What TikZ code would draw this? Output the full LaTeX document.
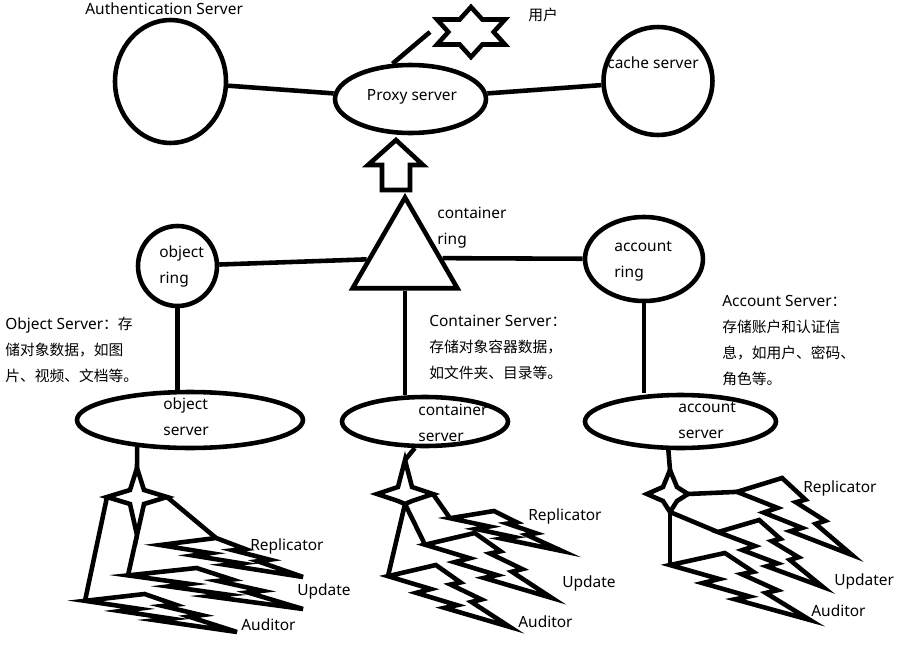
\documentclass[tikz,border=0pt]{standalone}
\usepackage{fontspec}
\setmainfont{Noto Sans}
\newfontfamily\cjk[Scale=0.955]{Noto Sans CJK SC}
\usetikzlibrary{shapes.geometric}

\tikzset{
ring/.style={draw, ellipse, line width=2.6pt, inner sep=0pt},
link/.style={line width=2.6pt},
lbl/.style={font=\fontsize{8.8}{14.8}\selectfont, align=left, anchor=west, inner sep=0pt},
pics/bolt/.style={code={
\draw[line width=2.6pt] (0.392,0) -- (0.595,0.281) -- (0.512,0.315) -- (0.767,0.556) -- (0.684,0.596) -- (1,1) -- (0.464,0.691) -- (0.566,0.648) -- (0.232,0.449) -- (0.352,0.388) -- (0,0.180) -- cycle;
\coordinate (-t) at (0.392,0);
\coordinate (-l) at (0,0.180);
}},
pics/sparkle/.style n args={4}{code={
\draw[line width=2.6pt] (0,-#1) -- (7,-7) -- (#2,0) -- (7,7) -- (0,#3) -- (-7,7) -- (-#4,0) -- (-7,-7) -- cycle;
\coordinate (-n) at (0,-#1);
\coordinate (-e) at (#2,0);
\coordinate (-s) at (0,#3);
\coordinate (-w) at (-#4,0);
}}
}

\begin{document}
\begin{tikzpicture}[x=0.02cm, y=-0.02cm]
\useasboundingbox (0,0) rectangle (914,656);

\node[ring, minimum width=2.22cm, minimum height=2.46cm] (auth) at (170.5,81.5) {};
\node[ring, minimum width=3.02cm, minimum height=1.36cm] (proxy) at (410.5,99) {};
\node[ring, minimum width=2.18cm, minimum height=2.16cm] (cache) at (658,81) {};
\node[draw, star, star points=6, star point ratio=1.73, minimum size=1cm, inner sep=0pt, line width=2.6pt, xscale=1.57, transform shape] (user) at (471,32) {};
\coordinate (userend) at (430,32);

\node[ring, minimum width=1.58cm, minimum height=1.6cm] (oring) at (177.5,266) {};
\node[draw, regular polygon, regular polygon sides=3, minimum size=2.42cm, inner sep=0pt, line width=2.6pt] (cring) at (405,258) {};
\node[ring, minimum width=2.36cm, minimum height=1.68cm] (aring) at (644,259) {};

\node[ring, minimum width=4.52cm, minimum height=1.12cm] (oserver) at (190,420) {};
\node[ring, minimum width=3.32cm, minimum height=0.98cm] (cserver) at (425,421.5) {};
\node[ring, minimum width=3.82cm, minimum height=1.06cm] (aserver) at (680.5,421.5) {};

\draw[link] (auth) -- (proxy);
\draw[link] (proxy) -- (cache);
\draw[link] (proxy.117) -- (userend);
\draw[link] (oring) -- (cring);
\draw[link] (cring) -- (aring);
\draw[link] (oring.south) -- (oring.south |- oserver.north);
\draw[link] (cring.south) -- (cring.south |- cserver.north);
\draw[link] (aring.south) -- (aring.south |- aserver.north);
\draw[link] (396,140) -- (423,165) -- (410,165) -- (410,190) -- (382,190) -- (382,165) -- (368,165) -- cycle;

\node[lbl] (authlbl) at (85,9) {Authentication Server};
\node[lbl] (userlbl) at (528,15) {\cjk 用户};
\node[lbl, anchor=center] (proxylbl) at (412,97) {Proxy server};
\node[lbl] (cachelbl) at (607,63) {cache server};
\node[lbl] (oringlbl) at (159,266) {object\\ring};
\node[lbl] (cringlbl) at (437,228) {container\\ring};
\node[lbl] (aringlbl) at (614,261) {account\\ring};
\node[lbl] (oserverlbl) at (163,417) {object\\server};
\node[lbl] (cserverlbl) at (418,423) {container\\server};
\node[lbl] (aserverlbl) at (678,420) {account\\server};
\node[lbl] (odesc) at (5,349.5) {Object Server{\cjk ：存}\\{\cjk 储对象数据，如图}\\{\cjk 片、视频、文档等。}};
\node[lbl] (cdesc) at (429,347.5) {Container Server{\cjk ：}\\{\cjk 存储对象容器数据，}\\{\cjk 如文件夹、目录等。}};
\node[lbl] (adesc) at (722,341) {Account Server{\cjk ：}\\{\cjk 存储账户和认证信}\\{\cjk 息，如用户、密码、}\\{\cjk 角色等。}};

\pic (ostar) at (137,497) {sparkle={29}{30}{38}{30}};
\pic[xscale=143, yscale=39] (orep) at (160,538) {bolt};
\pic[xscale=175, yscale=41] (oupd) at (128,568) {bolt};
\pic[xscale=152, yscale=38] (oaud) at (85,594) {bolt};
\draw[link] (oserver.207) -- (ostar-n);
\draw[link] (ostar-e) -- (orep-t);
\draw[link] (ostar-s) -- (oupd-l);
\draw[link] (ostar-w) -- (oaud-l);
\node[lbl] (oreplbl) at (250,546) {Replicator};
\node[lbl] (oupdlbl) at (297,591) {Update};
\node[lbl] (oaudlbl) at (241,625) {Auditor};

\pic (cstar) at (405,494) {sparkle={34}{28}{10}{28}};
\pic[xscale=112, yscale=40] (crep) at (450,511) {bolt};
\pic[xscale=127, yscale=65] (cupd) at (425,533) {bolt};
\pic[xscale=122, yscale=62] (caud) at (388,565) {bolt};
\draw[link] (cserver.249) -- (cstar-n);
\draw[link] (cstar-e) -- (crep-l);
\draw[link] (cstar-s) -- (cupd-l);
\draw[link] (cstar-s) -- (caud-l);
\node[lbl] (creplbl) at (528,516) {Replicator};
\node[lbl] (cupdlbl) at (562,583) {Update};
\node[lbl] (caudlbl) at (518,622) {Auditor};

\pic (astar) at (670,494) {sparkle={24}{18}{18}{23}};
\pic[xscale=115, yscale=77] (arep) at (737,478) {bolt};
\pic[xscale=105, yscale=67] (aupd) at (718,520) {bolt};
\pic[xscale=140, yscale=67] (aaud) at (670,553) {bolt};
\draw[link] (aserver.247) -- (astar-n);
\draw[link] (astar-e) -- (arep-l);
\draw[link] (astar-s) -- (aupd-l);
\draw[link] (astar-s) -- (aaud-l);
\node[lbl] (areplbl) at (803,488) {Replicator};
\node[lbl] (aupdlbl) at (834,581) {Updater};
\node[lbl] (aaudlbl) at (811,611) {Auditor};
\end{tikzpicture}
\end{document}
